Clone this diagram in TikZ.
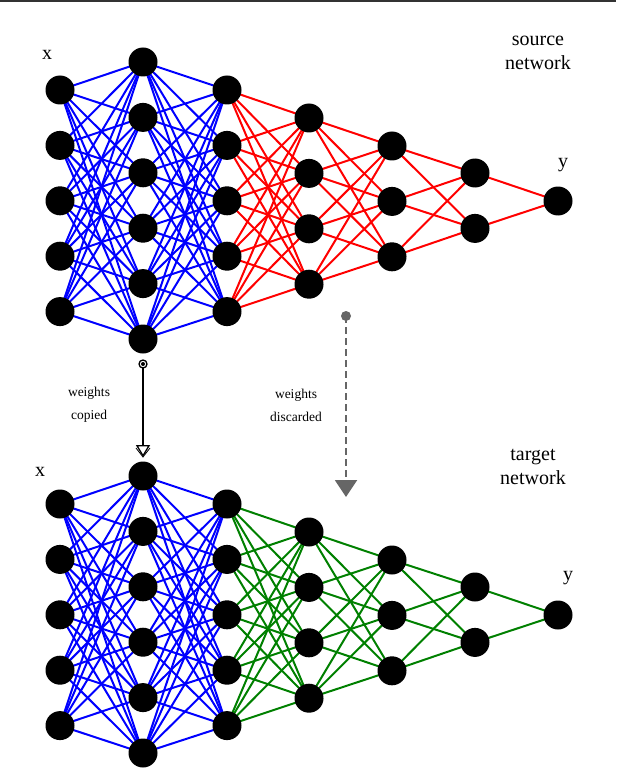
\documentclass[tikz,border=0pt]{standalone}
\usepackage{fontspec}
\setmainfont{Liberation Serif}
\usetikzlibrary{arrows.meta}
\begin{document}
\begin{tikzpicture}[x=1pt,y=-1pt,
  neuron/.style={circle,fill=black,minimum size=29pt,inner sep=0pt},
  blueedge/.style={blue,line width=2pt},
  rededge/.style={red,line width=2pt},
  greenedge/.style={green!50!black,line width=2pt},
  lbl/.style={font=\fontsize{20}{24}\selectfont,align=center},
  small/.style={font=\fontsize{13.5}{23}\selectfont,align=center}]
\useasboundingbox (0,0) rectangle (616,770);
\draw[line width=2pt,black!80] (0,1) -- (616,1);
\def\xs{{60,143,227,309,392,475,558}}
\foreach \net/\off/\col in {s/0/rededge,t/414/greenedge}{
  % layers: l / x / count / top y
  \foreach \l/\x/\n/\t in {1/60/5/90,2/143/6/62,3/227/5/90,4/309/4/118,5/392/3/146,6/475/2/173,7/558/1/201}{
    \foreach \i in {1,...,\n}{
      \coordinate (\net\l-\i) at (\x,{\t+(\i-1)*55.4+\off});
    }
  }
  \foreach \a/\na/\b/\nb/\st in {1/5/2/6/blueedge,2/6/3/5/blueedge,3/5/4/4/\col,4/4/5/3/\col,5/3/6/2/\col,6/2/7/1/\col}{
    \foreach \i in {1,...,\na}{
      \foreach \j in {1,...,\nb}{
        \draw[\st] (\net\a-\i) -- (\net\b-\j);
      }
    }
  }
  \foreach \l/\n in {1/5,2/6,3/5,4/4,5/3,6/2,7/1}{
    \foreach \i in {1,...,\n}{
      \node[neuron] (n\net\l-\i) at (\net\l-\i) {};
    }
  }
}
\node[lbl] (xs) at (47,55) {x};
\node[lbl] (ys) at (563,165) {y};
\node[lbl] (src) at (538,53) {source\\network};
\node[lbl] (xt) at (40,472) {x};
\node[lbl] (yt) at (568,578) {y};
\node[lbl] (tgt) at (533,467) {target\\network};
\node[small] (wc) at (89,405) {weights\\copied};
\node[small] (wd) at (296,405) {weights\\discarded};
\coordinate (a1s) at (143,364);
\coordinate (a1e) at (143,457);
\draw[line width=1.3pt] (a1s) circle (4pt);
\fill (a1s) circle (2pt);
\draw[line width=1.3pt,-{Triangle[open,length=12pt,width=14pt]}] (a1s) ++(0,4) -- (a1e);
\draw[line width=0.8pt] (136,448) -- (143,457) -- (150,448);
\coordinate (a2s) at (346,316);
\coordinate (a2e) at (346,497);
\fill[black!60] (a2s) circle (5pt);
\draw[black!60,line width=2pt,dashed,dash pattern=on 7pt off 4pt,-{Triangle[length=17pt,width=22pt]}] (a2s) -- (a2e);
\end{tikzpicture}
\end{document}
